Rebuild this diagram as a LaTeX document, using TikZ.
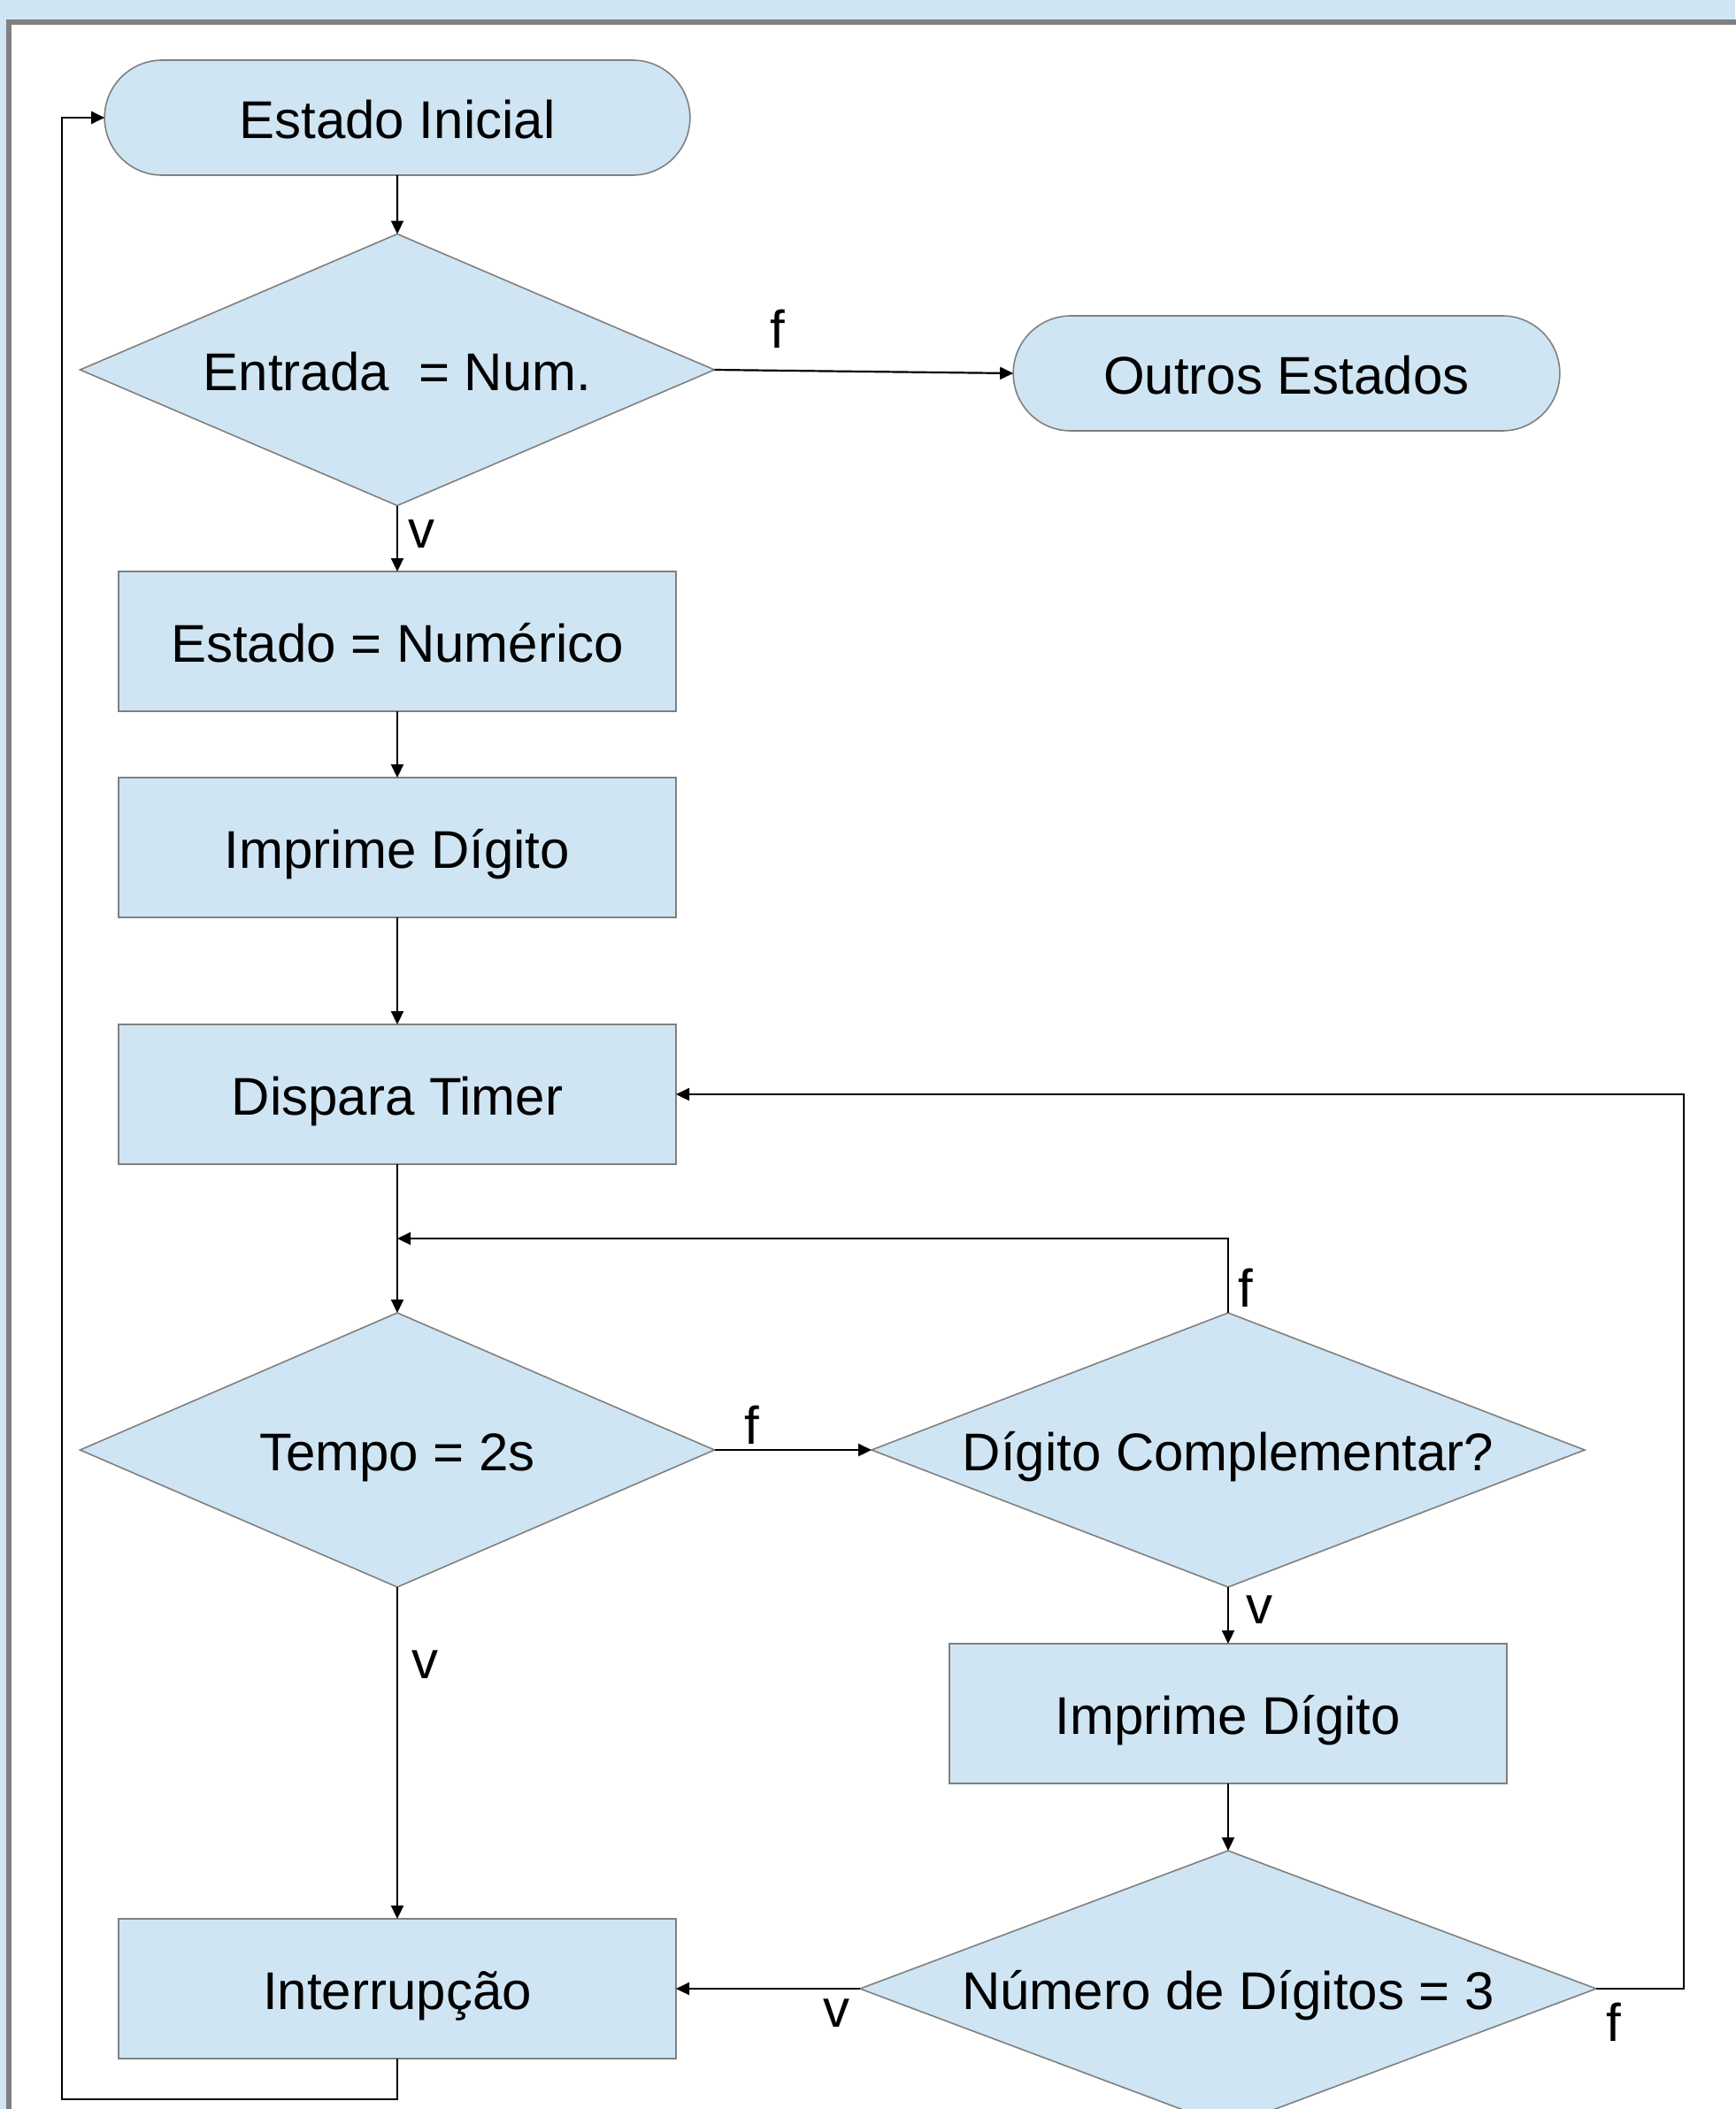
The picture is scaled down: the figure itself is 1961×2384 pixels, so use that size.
\documentclass[tikz,border=0pt]{standalone}
\usepackage{fontspec}
\setmainfont{Liberation Sans}
\definecolor{boxblue}{HTML}{CFE5F3}
\definecolor{linegray}{HTML}{808080}
\usetikzlibrary{shapes.geometric,shapes.misc,arrows.meta}
\tikzstyle{stateNode} = [
 rounded rectangle,
 draw=linegray,
 line width=0.8pt,
 fill=boxblue,
 outer sep=0pt,
 minimum height=65pt,
 text height=24pt,
 text depth=1pt,
 font=\fontsize{30pt}{36pt}\selectfont
]
\tikzstyle{decisionNode} = [
 diamond,
 aspect=2.5,
 draw=linegray,
 line width=0.8pt,
 fill=boxblue,
 inner sep=0pt,
 outer sep=0pt,
 text height=24pt,
 text depth=1pt,
 font=\fontsize{30pt}{36pt}\selectfont
]
\tikzstyle{actionBox} = [
 rectangle,
 draw=linegray,
 line width=0.8pt,
 fill=boxblue,
 outer sep=0pt,
 minimum width=315pt,
 minimum height=79pt,
 text height=24pt,
 text depth=1pt,
 font=\fontsize{30pt}{36pt}\selectfont
]
\tikzstyle{flowLine} = [
 draw=black,
 line width=1.1pt,
 -{Triangle[length=7.5pt,width=7pt]}
]
\tikzstyle{edgeLabel} = [
 inner sep=0pt,
 font=\fontsize{30pt}{36pt}\selectfont
]

\begin{document}
\begin{tikzpicture}[x=0.5pt,y=-0.5pt]
  \useasboundingbox (0,0) rectangle (1961,2384);
  % page frame
  \fill[boxblue] (0,0) rectangle (1961,2384);
  \draw[linegray, line width=3pt, fill=white] (9.5,25) rectangle (2100,2500);

  % left column
  \node [stateNode, minimum width=337.5pt] (inicial) at (449,133) {Estado Inicial};
  \node [decisionNode, minimum width=358.5pt, minimum height=153.5pt] (entrada) at (449,418) {Entrada\ \ = Num.};
  \node [stateNode, minimum width=315.5pt] (outros) at (1454,422) {Outros Estados};
  \node [actionBox] (numerico) at (449,725) {Estado = Numérico};
  \node [actionBox] (imprimeA) at (449,958) {Imprime Dígito};
  \node [actionBox] (dispara) at (449,1237) {Dispara Timer};
  \node [decisionNode, minimum width=358.5pt, minimum height=155pt] (tempo) at (449,1639) {Tempo = 2s};
  \node [actionBox] (interrupcao) at (449,2248) {Interrupção};

  % right column
  \node [decisionNode, minimum width=403pt, minimum height=155pt] (complementar) at (1388,1639) {Dígito Complementar?};
  \node [actionBox] (imprimeB) at (1388,1937) {Imprime Dígito};
  \node [decisionNode, minimum width=416pt, minimum height=156pt] (digitos) at (1388,2248) {Número de Dígitos = 3};

  % turning points
  \coordinate (juncao) at (449,1400);
  \coordinate (voltaDir) at (1903,2248);
  \coordinate (voltaEsq) at (70,2373);

  % connectors
  \draw [flowLine] (inicial) -- (entrada);
  \draw [flowLine] (entrada.east) -- (outros.west);
  \draw [flowLine] (entrada) -- (numerico);
  \draw [flowLine] (numerico) -- (imprimeA);
  \draw [flowLine] (imprimeA) -- (dispara);
  \draw [flowLine] (dispara) -- (tempo);
  \draw [flowLine] (tempo.east) -- (complementar.west);
  \draw [flowLine] (complementar.north) |- (juncao);
  \draw [flowLine] (complementar) -- (imprimeB);
  \draw [flowLine] (imprimeB) -- (digitos);
  \draw [flowLine] (digitos.west) -- (interrupcao.east);
  \draw [flowLine] (digitos.east) -- (voltaDir) |- (dispara.east);
  \draw [flowLine] (tempo) -- (interrupcao);
  \draw [flowLine] (interrupcao.south) |- (voltaEsq) |- (inicial.west);

  % labels
  \node [edgeLabel] (fEntrada) at (879,372) {f};
  \node [edgeLabel] (vEntrada) at (476,604) {v};
  \node [edgeLabel] (fTempo) at (850,1611) {f};
  \node [edgeLabel] (fComplementar) at (1408,1456) {f};
  \node [edgeLabel] (vComplementar) at (1423,1820) {v};
  \node [edgeLabel] (vTempo) at (480,1882) {v};
  \node [edgeLabel] (vDigitos) at (945,2276) {v};
  \node [edgeLabel] (fDigitos) at (1824,2286) {f};
\end{tikzpicture}
\end{document}
